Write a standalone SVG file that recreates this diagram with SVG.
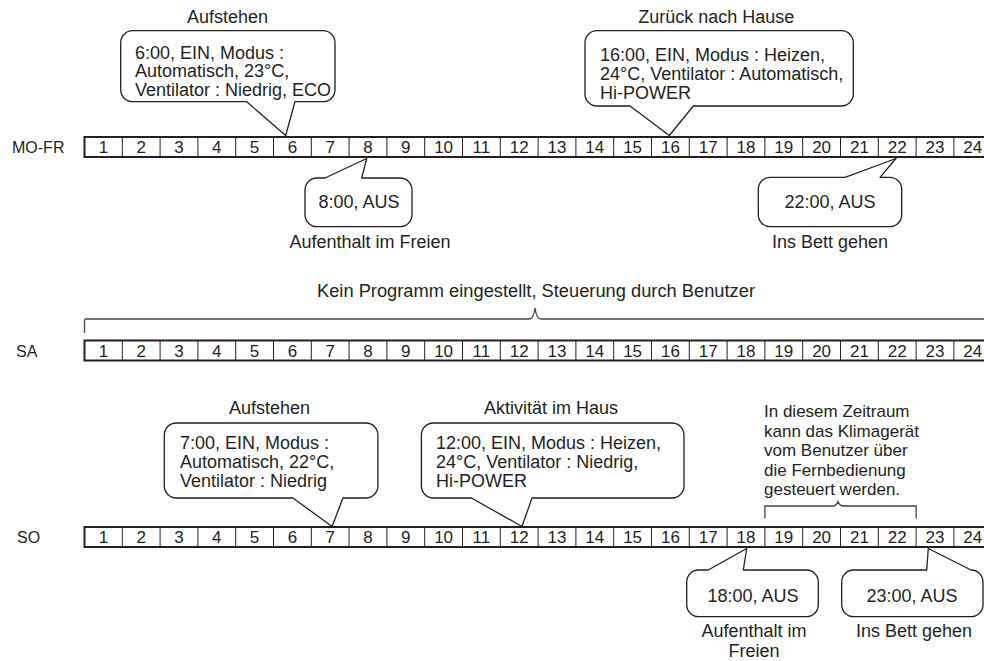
<svg xmlns="http://www.w3.org/2000/svg" xmlns:xlink="http://www.w3.org/1999/xlink" width="984" height="661" viewBox="0 0 984 661">
<style>
text{font-family:"Liberation Sans",Arial,Helvetica,sans-serif;fill:#231f20}
.t{font-size:18px}
.c{font-size:18px;text-anchor:middle}
.n{font-size:17px;text-anchor:middle}
.lbl{font-size:16px}
.bubble{fill:#fff;stroke:#231f20;stroke-width:1.3;stroke-linejoin:round}
.brace{fill:none;stroke:#444;stroke-width:1.3}
.frame{fill:#fff;stroke:#231f20;stroke-width:2}
.div{fill:none;stroke:#231f20;stroke-width:1}
</style>
<defs>
<g id="cells">
<rect class="frame" x="84.5" y="0" width="910" height="20"/>
<path class="div" d="M122.3,0V20M160.1,0V20M197.9,0V20M235.7,0V20M273.5,0V20M311.3,0V20M349.1,0V20M386.9,0V20M424.7,0V20M462.5,0V20M500.3,0V20M538.1,0V20M575.9,0V20M613.7,0V20M651.5,0V20M689.3,0V20M727.1,0V20M764.9,0V20M802.7,0V20M840.5,0V20M878.3,0V20M916.1,0V20M953.9,0V20"/>
</g>
</defs>

<g id="row-mofr">
<text class="lbl" x="12" y="153">MO-FR</text>
<use xlink:href="#cells" href="#cells" transform="translate(0,137)"/>
<text class="n" x="103.4" y="153">1</text><text class="n" x="141.2" y="153">2</text><text class="n" x="179" y="153">3</text><text class="n" x="216.8" y="153">4</text><text class="n" x="254.6" y="153">5</text><text class="n" x="292.4" y="153">6</text><text class="n" x="330.2" y="153">7</text><text class="n" x="368" y="153">8</text><text class="n" x="405.8" y="153">9</text><text class="n" x="443.6" y="153">10</text><text class="n" x="481.4" y="153">11</text><text class="n" x="519.2" y="153">12</text><text class="n" x="557" y="153">13</text><text class="n" x="594.8" y="153">14</text><text class="n" x="632.6" y="153">15</text><text class="n" x="670.4" y="153">16</text><text class="n" x="708.2" y="153">17</text><text class="n" x="746" y="153">18</text><text class="n" x="783.8" y="153">19</text><text class="n" x="821.6" y="153">20</text><text class="n" x="859.4" y="153">21</text><text class="n" x="897.2" y="153">22</text><text class="n" x="935" y="153">23</text><text class="n" x="972.8" y="153">24</text>
</g>

<g id="row-sa">
<text class="lbl" x="16" y="356.5">SA</text>
<use xlink:href="#cells" href="#cells" transform="translate(0,340.5)"/>
<text class="n" x="103.4" y="356.5">1</text><text class="n" x="141.2" y="356.5">2</text><text class="n" x="179" y="356.5">3</text><text class="n" x="216.8" y="356.5">4</text><text class="n" x="254.6" y="356.5">5</text><text class="n" x="292.4" y="356.5">6</text><text class="n" x="330.2" y="356.5">7</text><text class="n" x="368" y="356.5">8</text><text class="n" x="405.8" y="356.5">9</text><text class="n" x="443.6" y="356.5">10</text><text class="n" x="481.4" y="356.5">11</text><text class="n" x="519.2" y="356.5">12</text><text class="n" x="557" y="356.5">13</text><text class="n" x="594.8" y="356.5">14</text><text class="n" x="632.6" y="356.5">15</text><text class="n" x="670.4" y="356.5">16</text><text class="n" x="708.2" y="356.5">17</text><text class="n" x="746" y="356.5">18</text><text class="n" x="783.8" y="356.5">19</text><text class="n" x="821.6" y="356.5">20</text><text class="n" x="859.4" y="356.5">21</text><text class="n" x="897.2" y="356.5">22</text><text class="n" x="935" y="356.5">23</text><text class="n" x="972.8" y="356.5">24</text>
</g>

<g id="row-so">
<text class="lbl" x="17" y="543">SO</text>
<use xlink:href="#cells" href="#cells" transform="translate(0,527)"/>
<text class="n" x="103.4" y="543">1</text><text class="n" x="141.2" y="543">2</text><text class="n" x="179" y="543">3</text><text class="n" x="216.8" y="543">4</text><text class="n" x="254.6" y="543">5</text><text class="n" x="292.4" y="543">6</text><text class="n" x="330.2" y="543">7</text><text class="n" x="368" y="543">8</text><text class="n" x="405.8" y="543">9</text><text class="n" x="443.6" y="543">10</text><text class="n" x="481.4" y="543">11</text><text class="n" x="519.2" y="543">12</text><text class="n" x="557" y="543">13</text><text class="n" x="594.8" y="543">14</text><text class="n" x="632.6" y="543">15</text><text class="n" x="670.4" y="543">16</text><text class="n" x="708.2" y="543">17</text><text class="n" x="746" y="543">18</text><text class="n" x="783.8" y="543">19</text><text class="n" x="821.6" y="543">20</text><text class="n" x="859.4" y="543">21</text><text class="n" x="897.2" y="543">22</text><text class="n" x="935" y="543">23</text><text class="n" x="972.8" y="543">24</text>
</g>

<g id="connectors">
<path class="brace" d="M84.5,333V320.5Q84.5,319 86,319H529Q533.5,319 535,308Q536.5,319 541,319H990"/>
<path class="brace" d="M764.9,518.5V506H832.5Q836.5,506 838,501.5Q839.5,506 843.5,506H916.1V518.5"/>
</g>

<g id="callout-mofr-0600">
<text class="c" x="227.5" y="22.5">Aufstehen</text>
<path class="bubble" d="M132.7,30.7H323A12,12 0 0 1 335,42.7V89.7A12,12 0 0 1 323,101.7H295L285.7,135.5L246.7,101.7H132.7A12,12 0 0 1 120.7,89.7V42.7A12,12 0 0 1 132.7,30.7Z"/>
<text class="t" x="135" y="58.5">6:00, EIN, Modus :<tspan x="135" dy="18.5">Automatisch, 23°C,</tspan><tspan x="135" dy="18.5">Ventilator : Niedrig, ECO</tspan></text>
</g>

<g id="callout-mofr-0800">
<path class="bubble" d="M317,178H325L366.7,158.5L361.7,178H400A12,12 0 0 1 412,190V214.7A12,12 0 0 1 400,226.7H317A12,12 0 0 1 305,214.7V190A12,12 0 0 1 317,178Z"/>
<text class="c" x="359" y="208">8:00, AUS</text>
<text class="c" x="370" y="248">Aufenthalt im Freien</text>
</g>

<g id="callout-mofr-1600">
<text class="c" x="716.3" y="22.5">Zurück nach Hause</text>
<path class="bubble" d="M597,30.7H841.3A12,12 0 0 1 853.3,42.7V94A12,12 0 0 1 841.3,106H693.3L669.3,135.5L630,106H597A12,12 0 0 1 585,94V42.7A12,12 0 0 1 597,30.7Z"/>
<text class="t" x="600" y="61">16:00, EIN, Modus : Heizen,<tspan x="600" dy="19">24°C, Ventilator : Automatisch,</tspan><tspan x="600" dy="19">Hi-POWER</tspan></text>
</g>

<g id="callout-mofr-2200">
<path class="bubble" d="M770.3,177.3H845L896,158.5L880,177.3H889.7A12,12 0 0 1 901.7,189.3V214.7A12,12 0 0 1 889.7,226.7H770.3A12,12 0 0 1 758.3,214.7V189.3A12,12 0 0 1 770.3,177.3Z"/>
<text class="c" x="830" y="208">22:00, AUS</text>
<text class="c" x="830" y="248">Ins Bett gehen</text>
</g>

<g id="banner-sa">
<text class="c" x="536" y="297" style="font-size:18.3px">Kein Programm eingestellt, Steuerung durch Benutzer</text>
</g>

<g id="callout-so-0700">
<text class="c" x="269.6" y="414">Aufstehen</text>
<path class="bubble" d="M176.3,423H365.9A12,12 0 0 1 377.9,435V486A12,12 0 0 1 365.9,498H342.9L332.1,526.5L292.9,498H176.3A12,12 0 0 1 164.3,486V435A12,12 0 0 1 176.3,423Z"/>
<text class="t" x="180" y="449">7:00, EIN, Modus :<tspan x="180" dy="19">Automatisch, 22°C,</tspan><tspan x="180" dy="19">Ventilator : Niedrig</tspan></text>
</g>

<g id="callout-so-1200">
<text class="c" x="551" y="414">Aktivität im Haus</text>
<path class="bubble" d="M433.4,423H672A12,12 0 0 1 684,435V486A12,12 0 0 1 672,498H532L522,526.5L471.4,498H433.4A12,12 0 0 1 421.4,486V435A12,12 0 0 1 433.4,423Z"/>
<text class="t" x="436" y="449">12:00, EIN, Modus : Heizen,<tspan x="436" dy="19">24°C, Ventilator : Niedrig,</tspan><tspan x="436" dy="19">Hi-POWER</tspan></text>
</g>

<g id="note-so">
<text class="t" x="764" y="417" style="font-size:17px">In diesem Zeitraum<tspan x="764" dy="19.6">kann das Klimagerät</tspan><tspan x="764" dy="19.6">vom Benutzer über</tspan><tspan x="764" dy="19.6">die Fernbedienung</tspan><tspan x="764" dy="19.6">gesteuert werden.</tspan></text>
</g>

<g id="callout-so-1800">
<path class="bubble" d="M698.7,570H708.3L746.7,548.5L743.3,570H806.3A12,12 0 0 1 818.3,582V604.7A12,12 0 0 1 806.3,616.7H698.7A12,12 0 0 1 686.7,604.7V582A12,12 0 0 1 698.7,570Z"/>
<text class="c" x="753" y="601.5">18:00, AUS</text>
<text class="c" x="754" y="636.5">Aufenthalt im<tspan x="754" dy="20">Freien</tspan></text>
</g>

<g id="callout-so-2300">
<path class="bubble" d="M853.7,570H926.7L928.3,548.5L971,570A12,12 0 0 1 983,582V604.7A12,12 0 0 1 971,616.7H853.7A12,12 0 0 1 841.7,604.7V582A12,12 0 0 1 853.7,570Z"/>
<text class="c" x="912" y="601.5">23:00, AUS</text>
<text class="c" x="914" y="636.5">Ins Bett gehen</text>
</g>
</svg>
